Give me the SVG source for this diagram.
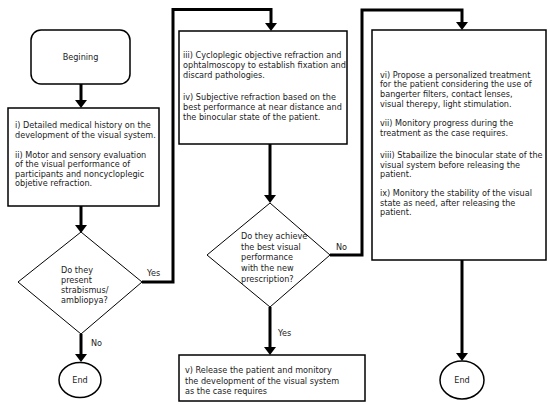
<svg xmlns="http://www.w3.org/2000/svg" width="550" height="405" viewBox="0 0 550 405">
<defs>
<style>
.box{fill:#fff;stroke:#000;stroke-width:1.5}
.dia{fill:#fff;stroke:#000;stroke-width:1}
.t{font-family:"DejaVu Sans",Verdana,sans-serif;font-size:8.15px;fill:#1a1a1a}
.c{text-anchor:middle}
.ln{fill:none;stroke:#000;stroke-width:3}
</style>
</defs>
<rect width="550" height="405" fill="#fff"/>
<g id="connectors">
<line class="ln" x1="81" y1="84" x2="81" y2="100"/>
<path d="M75,100 L87,100 L81,108 Z"/>
<line class="ln" x1="81" y1="206" x2="81" y2="225"/>
<path d="M75,225 L87,225 L81,233 Z"/>
<line class="ln" x1="81" y1="334" x2="81" y2="354"/>
<path d="M75,354 L87,354 L81,362 Z"/>
<polyline class="ln" points="142,282 173,282 173,9.5 271,9.5 271,23"/>
<path d="M265,23 L277,23 L271,31 Z"/>
<line class="ln" x1="270" y1="144" x2="270" y2="195"/>
<path d="M264,195 L276,195 L270,203 Z"/>
<line class="ln" x1="270" y1="307" x2="270" y2="347"/>
<path d="M264,347 L276,347 L270,355 Z"/>
<polyline class="ln" points="330,255 362,255 362,10 462,10 462,22"/>
<path d="M456,22 L468,22 L462,30 Z"/>
<line class="ln" x1="462" y1="260" x2="462" y2="353"/>
<path d="M456,353 L468,353 L462,361 Z"/>
<text class="t" x="147" y="276">Yes</text>
<text class="t" x="91" y="346">No</text>
<text class="t" x="336" y="250">No</text>
<text class="t" x="278" y="336">Yes</text>
</g>
<g id="begin">
<rect class="box" x="31" y="30" width="99" height="54" rx="10"/>
<text class="t c" x="80.5" y="59.5">Begining</text>
</g>
<g id="step1">
<rect class="box" x="8" y="108" width="151" height="98"/>
<text class="t" x="15" y="128">i) Detailed medical history on the</text>
<text class="t" x="15" y="137.5">development of the visual system.</text>
<text class="t" x="15" y="157.5">ii) Motor and sensory evaluation</text>
<text class="t" x="15" y="167">of the visual performance of</text>
<text class="t" x="15" y="176.5">participants and noncycloplegic</text>
<text class="t" x="15" y="186">objetive refraction.</text>
</g>
<g id="decision1">
<polygon class="dia" points="81,232 142,282 81,334 18,282"/>
<text class="t" x="61" y="272.5">Do they</text>
<text class="t" x="61" y="282.5">present</text>
<text class="t" x="61" y="293">strabismus/</text>
<text class="t" x="61" y="303">ambliopya?</text>
</g>
<g id="end1">
<ellipse class="box" cx="80" cy="380" rx="21" ry="17.5"/>
<text class="t c" x="80" y="383">End</text>
</g>
<g id="step2">
<rect class="box" x="179" y="31" width="168" height="113"/>
<text class="t" x="183" y="57.5">iii) Cycloplegic objective refraction and</text>
<text class="t" x="183" y="67.5">ophtalmoscopy to establish fixation and</text>
<text class="t" x="183" y="77.5">discard pathologies.</text>
<text class="t" x="183" y="99.5">iv) Subjective refraction based on the</text>
<text class="t" x="183" y="109.5">best performance at near distance and</text>
<text class="t" x="183" y="119.5">the binocular state of the patient.</text>
</g>
<g id="decision2">
<polygon class="dia" points="270,203 330,255 270,307 207,255"/>
<text class="t" x="241" y="239">Do they achieve</text>
<text class="t" x="241" y="250">the best visual</text>
<text class="t" x="241" y="260">performance</text>
<text class="t" x="241" y="271">with the new</text>
<text class="t" x="241" y="281.5">prescription?</text>
</g>
<g id="step5">
<rect class="box" x="179" y="355" width="186" height="46"/>
<text class="t" x="185" y="373">v) Release the patient and monitory</text>
<text class="t" x="185" y="384">the development of the visual system</text>
<text class="t" x="185" y="394">as the case requires</text>
</g>
<g id="step3">
<rect class="box" x="372" y="30" width="174" height="230"/>
<text class="t" x="380" y="77.5">vi) Propose a personalized treatment</text>
<text class="t" x="380" y="87">for the patient considering the use of</text>
<text class="t" x="380" y="96.5">bangerter filters, contact lenses,</text>
<text class="t" x="380" y="106.5">visual therepy, light stimulation.</text>
<text class="t" x="380" y="125.5">vii) Monitory progress during the</text>
<text class="t" x="380" y="135.5">treatment as the case requires.</text>
<text class="t" x="380" y="157.5">viii) Stabailize the binocular state of the</text>
<text class="t" x="380" y="167.5">visual system before releasing the</text>
<text class="t" x="380" y="176.5">patient.</text>
<text class="t" x="380" y="195.5">ix) Monitory the stability of the visual</text>
<text class="t" x="380" y="205.5">state as need, after releasing the</text>
<text class="t" x="380" y="214.5">patient.</text>
</g>
<g id="end2">
<ellipse class="box" cx="462" cy="380" rx="22" ry="19"/>
<text class="t c" x="462" y="383">End</text>
</g>
</svg>
